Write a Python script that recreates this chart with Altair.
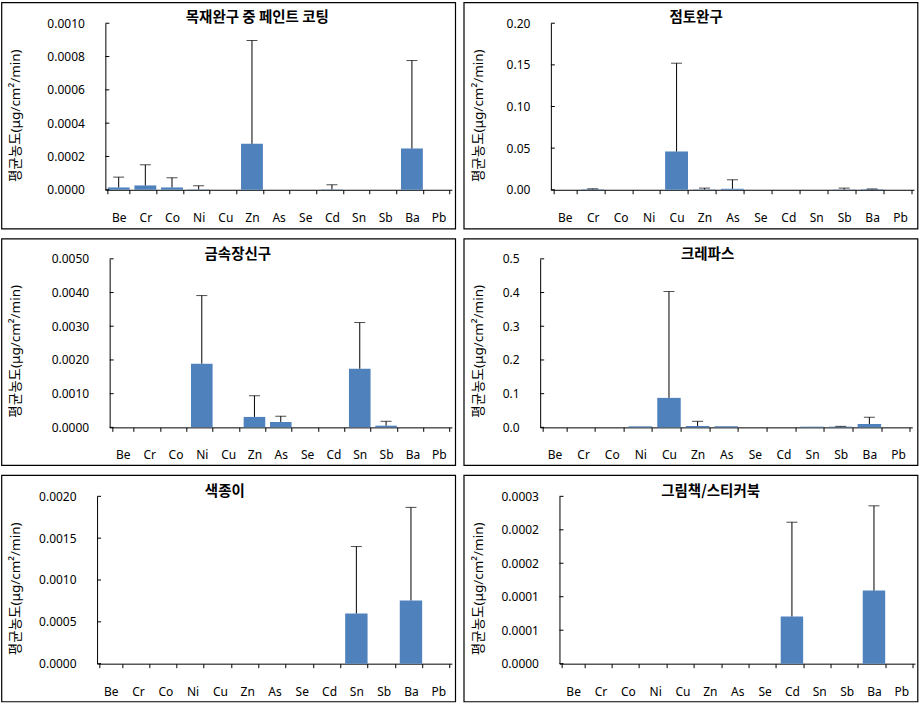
import altair as alt
import pandas as pd

elements = ["Be", "Cr", "Co", "Ni", "Cu", "Zn", "As", "Se", "Cd", "Sn", "Sb", "Ba", "Pb"]

# 목재완구 중 페인트 코팅
mean_wood = [0.000014, 0.000026, 0.000014, 0.000002, 0, 0.000276, 0, 0, 0.000002, 0, 0, 0.000248, 0]
sd_wood = [0.000062, 0.000124, 0.000058, 0.000022, 0, 0.000620, 0, 0, 0.000028, 0, 0, 0.000528, 0]
ticks_wood = [0, 0.0002, 0.0004, 0.0006, 0.0008, 0.0010]

# 점토완구
mean_clay = [0, 0.0005, 0, 0, 0.046, 0.0004, 0.0012, 0, 0, 0, 0.0003, 0.0006, 0]
sd_clay = [0, 0.0007, 0, 0, 0.106, 0.0016, 0.0108, 0, 0, 0, 0.0017, 0.0004, 0]
ticks_clay = [0, 0.05, 0.10, 0.15, 0.20]

# 금속장신구
mean_metal = [0, 0, 0, 0.00189, 0, 0.00031, 0.00016, 0, 0, 0.00174, 0.00005, 0, 0]
sd_metal = [0, 0, 0, 0.00202, 0, 0.00063, 0.00017, 0, 0, 0.00137, 0.00013, 0, 0]
ticks_metal = [0, 0.001, 0.002, 0.003, 0.004, 0.005]

# 크레파스
mean_crayon = [0, 0, 0, 0.003, 0.0875, 0.004, 0.003, 0, 0, 0.002, 0.002, 0.010, 0]
sd_crayon = [0, 0, 0, 0, 0.3155, 0.014, 0, 0, 0, 0, 0.001, 0.020, 0]
ticks_crayon = [0, 0.1, 0.2, 0.3, 0.4, 0.5]

# 색종이
mean_paper = [0, 0, 0, 0, 0, 0, 0, 0, 0, 0.00060, 0, 0.000756, 0]
sd_paper = [0, 0, 0, 0, 0, 0, 0, 0, 0, 0.00080, 0, 0.001112, 0]
ticks_paper = [0, 0.0005, 0.0010, 0.0015, 0.0020]

# 그림책/스티커북
mean_book = [0, 0, 0, 0, 0, 0, 0, 0, 0.0000846, 0, 0, 0.000131, 0]
sd_book = [0, 0, 0, 0, 0, 0, 0, 0, 0.000169, 0, 0, 0.000152, 0]
ticks_book = [0, 0.00006, 0.00012, 0.00018, 0.00024, 0.0003]

titles = ["목재완구 중 페인트 코팅", "점토완구", "금속장신구", "크레파스", "색종이", "그림책/스티커북"]
y_title = "평균농도(μg/cm²/min)"

BLUE = "#4F81BD"
KFONT = "Noto Sans CJK KR"
LFONT = "Noto Sans"
FW, FH = 454, 226.5   # each bordered panel (the view itself)


def panel(title, means, sds, ticks, fmt, L, W, T, H, tdx, ty):
    # L, T: offset of the plotting region inside the bordered panel
    B = FH - T - H
    df = pd.DataFrame({"el": elements, "mean": means, "sd": sds})
    df["upper"] = df["mean"] + df["sd"]

    xenc = alt.X(
        "el:N", sort=elements,
        scale=alt.Scale(paddingInner=0.18, paddingOuter=0.09, range=[L, L + W]),
        axis=alt.Axis(title=None, labelAngle=0, tickBand="extent", tickSize=4,
                      labelPadding=18.5, labelFont=LFONT, labelFontSize=12,
                      labelColor="black", domainColor="black", tickColor="black",
                      grid=False, offset=-B),
    )
    yscale = alt.Scale(domain=[ticks[0], ticks[-1]], nice=False, zero=True, range=[T + H, T])
    yaxis = alt.Axis(values=ticks, format=fmt, title=None, ticks=False,
                     labelPadding=21, labelFont=LFONT, labelFontSize=12,
                     labelColor="black", domainColor="black", grid=False,
                     labelFlush=False, labelOverlap=False, offset=-L)

    base = alt.Chart(df)
    bars = base.mark_bar(color=BLUE).encode(
        x=xenc,
        y=alt.Y("mean:Q", scale=yscale, axis=yaxis),
    )
    tick_df = pd.DataFrame({"t": ticks})
    inner_ticks = alt.Chart(tick_df).mark_rule(color="black", strokeWidth=1).encode(
        y=alt.Y("t:Q", scale=yscale, axis=yaxis),
        x=alt.value(L), x2=alt.value(L + 4),
    )
    err = base.transform_filter("datum.sd > 0").mark_rule(color="black", strokeWidth=1).encode(
        x=xenc,
        y=alt.Y("mean:Q", scale=yscale, axis=yaxis),
        y2="upper:Q",
    )
    cap = base.transform_filter("datum.sd > 0").mark_tick(color="black", size=11, thickness=1).encode(
        x=xenc,
        y=alt.Y("upper:Q", scale=yscale, axis=yaxis),
    )
    one = pd.DataFrame({"label": [title], "ylab": [y_title]})
    head = alt.Chart(one).mark_text(
        font=KFONT, fontSize=14.5, fontWeight="bold", color="black",
        align="center", baseline="middle"
    ).encode(
        text="label:N",
        x=alt.value(FW / 2 + tdx), y=alt.value(T + ty),
    )
    ylab = alt.Chart(one).mark_text(
        font=LFONT + ", " + KFONT, fontSize=13.5, color="black",
        align="center", baseline="middle", angle=270
    ).encode(
        text="ylab:N",
        x=alt.value(15), y=alt.value(T + 92.5),
    )
    return alt.layer(bars, inner_ticks, err, cap, head, ylab).properties(width=FW, height=FH)


p1 = panel(titles[0], mean_wood, sd_wood, ticks_wood, ".4f", 104, 346.7, 21, 166.6, 29, -5.5)
p2 = panel(titles[1], mean_clay, sd_clay, ticks_clay, ".2f", 87.2, 363.3, 21, 166.6, 5.5, -5.5)
p3 = panel(titles[2], mean_metal, sd_metal, ticks_metal, ".4f", 108.3, 342.4, 20.2, 168.6, 9.5, -4)
p4 = panel(titles[3], mean_crayon, sd_crayon, ticks_crayon, ".1f", 76.5, 372.3, 20.2, 168.6, 17, -4)
p5 = panel(titles[4], mean_paper, sd_paper, ticks_paper, ".4f", 95.7, 355, 21.3, 167.4, -3.5, -4.5)
p6 = panel(titles[5], mean_book, sd_book, ticks_book, ".4f", 95.8, 355.7, 21.3, 167.4, 20, -4.5)

chart = alt.concat(
    p1, p2, p3, p4, p5, p6,
    columns=2, bounds="flush",
    spacing={"row": 9.5, "column": 8.5},
).properties(
    padding={"left": 0.4, "top": 1.1, "right": 0, "bottom": 0},
    background="white",
).configure_view(stroke="black", strokeWidth=1.2)

chart.save("out.html", embed_options={"renderer": "svg", "actions": False})
